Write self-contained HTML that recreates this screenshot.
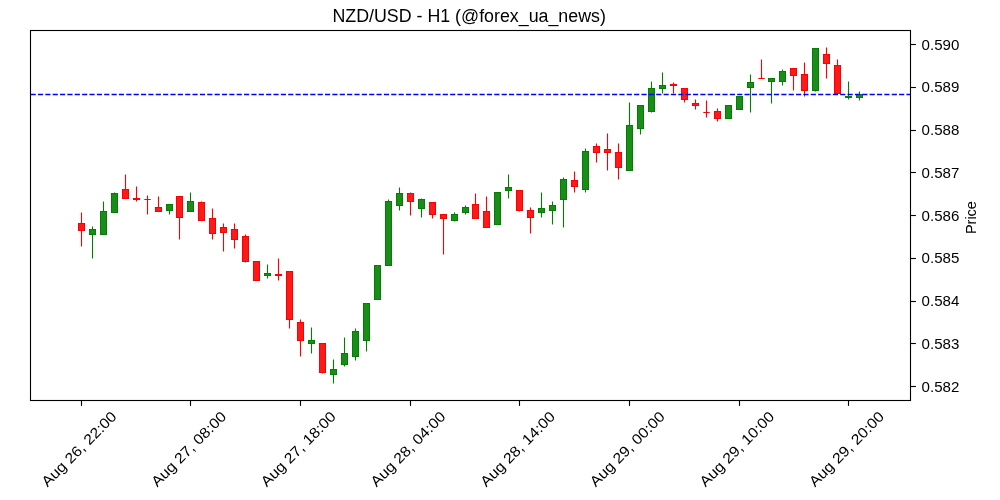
<!DOCTYPE html>
<html><head><meta charset="utf-8"><title>NZD/USD - H1</title>
<style>
html,body{margin:0;padding:0;background:#fff;width:1000px;height:500px;overflow:hidden}
svg{display:block;will-change:transform;font-family:"Liberation Sans",sans-serif}
</style></head><body>
<svg width="1000" height="500" viewBox="0 0 1000 500"><g stroke-width="1.1"><line x1="81.5" y1="212.5" x2="81.5" y2="223.5" stroke="#ff0000"/><line x1="81.5" y1="230.5" x2="81.5" y2="246.5" stroke="#ff0000"/><line x1="92.5" y1="226.5" x2="92.5" y2="229.5" stroke="#008000"/><line x1="92.5" y1="234.5" x2="92.5" y2="258.5" stroke="#008000"/><line x1="103.5" y1="201.5" x2="103.5" y2="211.5" stroke="#008000"/><line x1="114.5" y1="192.5" x2="114.5" y2="193.5" stroke="#008000"/><line x1="125.5" y1="174.5" x2="125.5" y2="189.5" stroke="#ff0000"/><line x1="136.5" y1="186.5" x2="136.5" y2="198.5" stroke="#ff0000"/><line x1="136.5" y1="199.5" x2="136.5" y2="201.5" stroke="#ff0000"/><line x1="147.5" y1="195.5" x2="147.5" y2="199.5" stroke="#ff0000"/><line x1="147.5" y1="199.5" x2="147.5" y2="214.5" stroke="#ff0000"/><line x1="158.5" y1="196.5" x2="158.5" y2="207.5" stroke="#ff0000"/><line x1="169.5" y1="210.5" x2="169.5" y2="214.5" stroke="#008000"/><line x1="179.5" y1="217.5" x2="179.5" y2="239.5" stroke="#ff0000"/><line x1="190.5" y1="192.5" x2="190.5" y2="201.5" stroke="#008000"/><line x1="201.5" y1="201.5" x2="201.5" y2="202.5" stroke="#ff0000"/><line x1="212.5" y1="208.5" x2="212.5" y2="218.5" stroke="#ff0000"/><line x1="212.5" y1="233.5" x2="212.5" y2="239.5" stroke="#ff0000"/><line x1="223.5" y1="223.5" x2="223.5" y2="227.5" stroke="#ff0000"/><line x1="223.5" y1="232.5" x2="223.5" y2="251.5" stroke="#ff0000"/><line x1="234.5" y1="223.5" x2="234.5" y2="229.5" stroke="#ff0000"/><line x1="234.5" y1="239.5" x2="234.5" y2="248.5" stroke="#ff0000"/><line x1="245.5" y1="234.5" x2="245.5" y2="236.5" stroke="#ff0000"/><line x1="245.5" y1="261.5" x2="245.5" y2="262.5" stroke="#ff0000"/><line x1="267.5" y1="264.5" x2="267.5" y2="273.5" stroke="#008000"/><line x1="267.5" y1="275.5" x2="267.5" y2="278.5" stroke="#008000"/><line x1="278.5" y1="258.5" x2="278.5" y2="274.5" stroke="#ff0000"/><line x1="278.5" y1="275.5" x2="278.5" y2="280.5" stroke="#ff0000"/><line x1="289.5" y1="319.5" x2="289.5" y2="328.5" stroke="#ff0000"/><line x1="300.5" y1="319.5" x2="300.5" y2="322.5" stroke="#ff0000"/><line x1="300.5" y1="340.5" x2="300.5" y2="356.5" stroke="#ff0000"/><line x1="311.5" y1="327.5" x2="311.5" y2="340.5" stroke="#008000"/><line x1="311.5" y1="343.5" x2="311.5" y2="353.5" stroke="#008000"/><line x1="322.5" y1="372.5" x2="322.5" y2="373.5" stroke="#ff0000"/><line x1="333.5" y1="359.5" x2="333.5" y2="369.5" stroke="#008000"/><line x1="333.5" y1="374.5" x2="333.5" y2="383.5" stroke="#008000"/><line x1="344.5" y1="337.5" x2="344.5" y2="353.5" stroke="#008000"/><line x1="344.5" y1="364.5" x2="344.5" y2="366.5" stroke="#008000"/><line x1="355.5" y1="328.5" x2="355.5" y2="331.5" stroke="#008000"/><line x1="355.5" y1="356.5" x2="355.5" y2="360.5" stroke="#008000"/><line x1="366.5" y1="340.5" x2="366.5" y2="351.5" stroke="#008000"/><line x1="388.5" y1="199.5" x2="388.5" y2="201.5" stroke="#008000"/><line x1="399.5" y1="187.5" x2="399.5" y2="193.5" stroke="#008000"/><line x1="399.5" y1="205.5" x2="399.5" y2="210.5" stroke="#008000"/><line x1="410.5" y1="192.5" x2="410.5" y2="193.5" stroke="#ff0000"/><line x1="410.5" y1="201.5" x2="410.5" y2="215.5" stroke="#ff0000"/><line x1="421.5" y1="198.5" x2="421.5" y2="199.5" stroke="#008000"/><line x1="421.5" y1="208.5" x2="421.5" y2="217.5" stroke="#008000"/><line x1="432.5" y1="214.5" x2="432.5" y2="218.5" stroke="#ff0000"/><line x1="443.5" y1="218.5" x2="443.5" y2="254.5" stroke="#ff0000"/><line x1="454.5" y1="212.5" x2="454.5" y2="214.5" stroke="#008000"/><line x1="454.5" y1="220.5" x2="454.5" y2="221.5" stroke="#008000"/><line x1="465.5" y1="205.5" x2="465.5" y2="207.5" stroke="#008000"/><line x1="465.5" y1="212.5" x2="465.5" y2="214.5" stroke="#008000"/><line x1="475.5" y1="193.5" x2="475.5" y2="204.5" stroke="#ff0000"/><line x1="486.5" y1="196.5" x2="486.5" y2="211.5" stroke="#ff0000"/><line x1="508.5" y1="174.5" x2="508.5" y2="187.5" stroke="#008000"/><line x1="508.5" y1="190.5" x2="508.5" y2="198.5" stroke="#008000"/><line x1="519.5" y1="210.5" x2="519.5" y2="211.5" stroke="#ff0000"/><line x1="530.5" y1="207.5" x2="530.5" y2="210.5" stroke="#ff0000"/><line x1="530.5" y1="217.5" x2="530.5" y2="233.5" stroke="#ff0000"/><line x1="541.5" y1="192.5" x2="541.5" y2="208.5" stroke="#008000"/><line x1="541.5" y1="212.5" x2="541.5" y2="217.5" stroke="#008000"/><line x1="552.5" y1="201.5" x2="552.5" y2="205.5" stroke="#008000"/><line x1="552.5" y1="210.5" x2="552.5" y2="224.5" stroke="#008000"/><line x1="563.5" y1="177.5" x2="563.5" y2="179.5" stroke="#008000"/><line x1="563.5" y1="199.5" x2="563.5" y2="227.5" stroke="#008000"/><line x1="574.5" y1="171.5" x2="574.5" y2="180.5" stroke="#ff0000"/><line x1="574.5" y1="186.5" x2="574.5" y2="192.5" stroke="#ff0000"/><line x1="585.5" y1="148.5" x2="585.5" y2="151.5" stroke="#008000"/><line x1="585.5" y1="189.5" x2="585.5" y2="192.5" stroke="#008000"/><line x1="596.5" y1="143.5" x2="596.5" y2="146.5" stroke="#ff0000"/><line x1="596.5" y1="152.5" x2="596.5" y2="162.5" stroke="#ff0000"/><line x1="607.5" y1="133.5" x2="607.5" y2="149.5" stroke="#ff0000"/><line x1="607.5" y1="152.5" x2="607.5" y2="170.5" stroke="#ff0000"/><line x1="618.5" y1="143.5" x2="618.5" y2="152.5" stroke="#ff0000"/><line x1="618.5" y1="167.5" x2="618.5" y2="179.5" stroke="#ff0000"/><line x1="629.5" y1="102.5" x2="629.5" y2="125.5" stroke="#008000"/><line x1="640.5" y1="128.5" x2="640.5" y2="134.5" stroke="#008000"/><line x1="651.5" y1="81.5" x2="651.5" y2="88.5" stroke="#008000"/><line x1="651.5" y1="111.5" x2="651.5" y2="112.5" stroke="#008000"/><line x1="662.5" y1="72.5" x2="662.5" y2="85.5" stroke="#008000"/><line x1="662.5" y1="88.5" x2="662.5" y2="93.5" stroke="#008000"/><line x1="673.5" y1="82.5" x2="673.5" y2="84.5" stroke="#ff0000"/><line x1="673.5" y1="85.5" x2="673.5" y2="93.5" stroke="#ff0000"/><line x1="684.5" y1="99.5" x2="684.5" y2="102.5" stroke="#ff0000"/><line x1="695.5" y1="99.5" x2="695.5" y2="103.5" stroke="#ff0000"/><line x1="695.5" y1="105.5" x2="695.5" y2="109.5" stroke="#ff0000"/><line x1="706.5" y1="100.5" x2="706.5" y2="112.5" stroke="#ff0000"/><line x1="706.5" y1="112.5" x2="706.5" y2="117.5" stroke="#ff0000"/><line x1="717.5" y1="108.5" x2="717.5" y2="111.5" stroke="#ff0000"/><line x1="717.5" y1="118.5" x2="717.5" y2="121.5" stroke="#ff0000"/><line x1="750.5" y1="74.5" x2="750.5" y2="82.5" stroke="#008000"/><line x1="750.5" y1="87.5" x2="750.5" y2="112.5" stroke="#008000"/><line x1="761.5" y1="59.5" x2="761.5" y2="78.5" stroke="#ff0000"/><line x1="771.5" y1="81.5" x2="771.5" y2="103.5" stroke="#008000"/><line x1="782.5" y1="69.5" x2="782.5" y2="71.5" stroke="#008000"/><line x1="782.5" y1="81.5" x2="782.5" y2="85.5" stroke="#008000"/><line x1="793.5" y1="75.5" x2="793.5" y2="90.5" stroke="#ff0000"/><line x1="804.5" y1="62.5" x2="804.5" y2="74.5" stroke="#ff0000"/><line x1="804.5" y1="90.5" x2="804.5" y2="96.5" stroke="#ff0000"/><line x1="815.5" y1="90.5" x2="815.5" y2="91.5" stroke="#008000"/><line x1="826.5" y1="47.5" x2="826.5" y2="54.5" stroke="#ff0000"/><line x1="826.5" y1="63.5" x2="826.5" y2="78.5" stroke="#ff0000"/><line x1="837.5" y1="59.5" x2="837.5" y2="65.5" stroke="#ff0000"/><line x1="837.5" y1="93.5" x2="837.5" y2="94.5" stroke="#ff0000"/><line x1="848.5" y1="81.5" x2="848.5" y2="96.5" stroke="#008000"/><line x1="848.5" y1="97.5" x2="848.5" y2="99.5" stroke="#008000"/><line x1="859.5" y1="91.5" x2="859.5" y2="94.5" stroke="#008000"/><line x1="859.5" y1="97.5" x2="859.5" y2="100.5" stroke="#008000"/></g>
<g stroke-width="1"><rect x="78.5" y="223.5" width="6" height="7" fill="rgba(255,0,0,0.9)" stroke="#ff0000"/><rect x="89.5" y="229.5" width="6" height="5" fill="rgba(0,128,0,0.9)" stroke="#008000"/><rect x="100.5" y="211.5" width="6" height="23" fill="rgba(0,128,0,0.9)" stroke="#008000"/><rect x="111.5" y="193.5" width="6" height="19" fill="rgba(0,128,0,0.9)" stroke="#008000"/><rect x="122.5" y="189.5" width="6" height="9" fill="rgba(255,0,0,0.9)" stroke="#ff0000"/><rect x="133.5" y="198.5" width="6" height="1" fill="rgba(255,0,0,0.9)" stroke="#ff0000"/><line x1="144.3" y1="199.5" x2="150.7" y2="199.5" stroke="#ff0000"/><rect x="155.5" y="207.5" width="6" height="4" fill="rgba(255,0,0,0.9)" stroke="#ff0000"/><rect x="166.5" y="204.5" width="6" height="6" fill="rgba(0,128,0,0.9)" stroke="#008000"/><rect x="176.5" y="196.5" width="6" height="21" fill="rgba(255,0,0,0.9)" stroke="#ff0000"/><rect x="187.5" y="201.5" width="6" height="10" fill="rgba(0,128,0,0.9)" stroke="#008000"/><rect x="198.5" y="202.5" width="6" height="18" fill="rgba(255,0,0,0.9)" stroke="#ff0000"/><rect x="209.5" y="218.5" width="6" height="15" fill="rgba(255,0,0,0.9)" stroke="#ff0000"/><rect x="220.5" y="227.5" width="6" height="5" fill="rgba(255,0,0,0.9)" stroke="#ff0000"/><rect x="231.5" y="229.5" width="6" height="10" fill="rgba(255,0,0,0.9)" stroke="#ff0000"/><rect x="242.5" y="236.5" width="6" height="25" fill="rgba(255,0,0,0.9)" stroke="#ff0000"/><rect x="253.5" y="261.5" width="6" height="19" fill="rgba(255,0,0,0.9)" stroke="#ff0000"/><rect x="264.5" y="273.5" width="6" height="2" fill="rgba(0,128,0,0.9)" stroke="#008000"/><rect x="275.5" y="274.5" width="6" height="1" fill="rgba(255,0,0,0.9)" stroke="#ff0000"/><rect x="286.5" y="271.5" width="6" height="48" fill="rgba(255,0,0,0.9)" stroke="#ff0000"/><rect x="297.5" y="322.5" width="6" height="18" fill="rgba(255,0,0,0.9)" stroke="#ff0000"/><rect x="308.5" y="340.5" width="6" height="3" fill="rgba(0,128,0,0.9)" stroke="#008000"/><rect x="319.5" y="343.5" width="6" height="29" fill="rgba(255,0,0,0.9)" stroke="#ff0000"/><rect x="330.5" y="369.5" width="6" height="5" fill="rgba(0,128,0,0.9)" stroke="#008000"/><rect x="341.5" y="353.5" width="6" height="11" fill="rgba(0,128,0,0.9)" stroke="#008000"/><rect x="352.5" y="331.5" width="6" height="25" fill="rgba(0,128,0,0.9)" stroke="#008000"/><rect x="363.5" y="303.5" width="6" height="37" fill="rgba(0,128,0,0.9)" stroke="#008000"/><rect x="374.5" y="265.5" width="6" height="34" fill="rgba(0,128,0,0.9)" stroke="#008000"/><rect x="385.5" y="201.5" width="6" height="64" fill="rgba(0,128,0,0.9)" stroke="#008000"/><rect x="396.5" y="193.5" width="6" height="12" fill="rgba(0,128,0,0.9)" stroke="#008000"/><rect x="407.5" y="193.5" width="6" height="8" fill="rgba(255,0,0,0.9)" stroke="#ff0000"/><rect x="418.5" y="199.5" width="6" height="9" fill="rgba(0,128,0,0.9)" stroke="#008000"/><rect x="429.5" y="202.5" width="6" height="12" fill="rgba(255,0,0,0.9)" stroke="#ff0000"/><rect x="440.5" y="214.5" width="6" height="4" fill="rgba(255,0,0,0.9)" stroke="#ff0000"/><rect x="451.5" y="214.5" width="6" height="6" fill="rgba(0,128,0,0.9)" stroke="#008000"/><rect x="462.5" y="207.5" width="6" height="5" fill="rgba(0,128,0,0.9)" stroke="#008000"/><rect x="472.5" y="204.5" width="6" height="14" fill="rgba(255,0,0,0.9)" stroke="#ff0000"/><rect x="483.5" y="211.5" width="6" height="16" fill="rgba(255,0,0,0.9)" stroke="#ff0000"/><rect x="494.5" y="192.5" width="6" height="32" fill="rgba(0,128,0,0.9)" stroke="#008000"/><rect x="505.5" y="187.5" width="6" height="3" fill="rgba(0,128,0,0.9)" stroke="#008000"/><rect x="516.5" y="190.5" width="6" height="20" fill="rgba(255,0,0,0.9)" stroke="#ff0000"/><rect x="527.5" y="210.5" width="6" height="7" fill="rgba(255,0,0,0.9)" stroke="#ff0000"/><rect x="538.5" y="208.5" width="6" height="4" fill="rgba(0,128,0,0.9)" stroke="#008000"/><rect x="549.5" y="205.5" width="6" height="5" fill="rgba(0,128,0,0.9)" stroke="#008000"/><rect x="560.5" y="179.5" width="6" height="20" fill="rgba(0,128,0,0.9)" stroke="#008000"/><rect x="571.5" y="180.5" width="6" height="6" fill="rgba(255,0,0,0.9)" stroke="#ff0000"/><rect x="582.5" y="151.5" width="6" height="38" fill="rgba(0,128,0,0.9)" stroke="#008000"/><rect x="593.5" y="146.5" width="6" height="6" fill="rgba(255,0,0,0.9)" stroke="#ff0000"/><rect x="604.5" y="149.5" width="6" height="3" fill="rgba(255,0,0,0.9)" stroke="#ff0000"/><rect x="615.5" y="152.5" width="6" height="15" fill="rgba(255,0,0,0.9)" stroke="#ff0000"/><rect x="626.5" y="125.5" width="6" height="45" fill="rgba(0,128,0,0.9)" stroke="#008000"/><rect x="637.5" y="105.5" width="6" height="23" fill="rgba(0,128,0,0.9)" stroke="#008000"/><rect x="648.5" y="88.5" width="6" height="23" fill="rgba(0,128,0,0.9)" stroke="#008000"/><rect x="659.5" y="85.5" width="6" height="3" fill="rgba(0,128,0,0.9)" stroke="#008000"/><rect x="670.5" y="84.5" width="6" height="1" fill="rgba(255,0,0,0.9)" stroke="#ff0000"/><rect x="681.5" y="88.5" width="6" height="11" fill="rgba(255,0,0,0.9)" stroke="#ff0000"/><rect x="692.5" y="103.5" width="6" height="2" fill="rgba(255,0,0,0.9)" stroke="#ff0000"/><line x1="703.3" y1="112.5" x2="709.7" y2="112.5" stroke="#ff0000"/><rect x="714.5" y="111.5" width="6" height="7" fill="rgba(255,0,0,0.9)" stroke="#ff0000"/><rect x="725.5" y="105.5" width="6" height="13" fill="rgba(0,128,0,0.9)" stroke="#008000"/><rect x="736.5" y="96.5" width="6" height="13" fill="rgba(0,128,0,0.9)" stroke="#008000"/><rect x="747.5" y="82.5" width="6" height="5" fill="rgba(0,128,0,0.9)" stroke="#008000"/><line x1="758.3" y1="78.5" x2="764.7" y2="78.5" stroke="#ff0000"/><rect x="768.5" y="78.5" width="6" height="3" fill="rgba(0,128,0,0.9)" stroke="#008000"/><rect x="779.5" y="71.5" width="6" height="10" fill="rgba(0,128,0,0.9)" stroke="#008000"/><rect x="790.5" y="68.5" width="6" height="7" fill="rgba(255,0,0,0.9)" stroke="#ff0000"/><rect x="801.5" y="74.5" width="6" height="16" fill="rgba(255,0,0,0.9)" stroke="#ff0000"/><rect x="812.5" y="48.5" width="6" height="42" fill="rgba(0,128,0,0.9)" stroke="#008000"/><rect x="823.5" y="54.5" width="6" height="9" fill="rgba(255,0,0,0.9)" stroke="#ff0000"/><rect x="834.5" y="65.5" width="6" height="28" fill="rgba(255,0,0,0.9)" stroke="#ff0000"/><rect x="845.5" y="96.5" width="6" height="1" fill="rgba(0,128,0,0.9)" stroke="#008000"/><rect x="856.5" y="94.5" width="6" height="3" fill="rgba(0,128,0,0.9)" stroke="#008000"/></g>
<line x1="30.6" y1="94.5" x2="910.5" y2="94.5" stroke="#0000ff" stroke-width="1.39" stroke-dasharray="5.14 2.22"/>
<rect x="30.5" y="30.5" width="880.0" height="370.0" fill="none" stroke="#000" stroke-width="1.11"/>
<g stroke="#000" stroke-width="1.11"><line x1="910.5" y1="44.5" x2="915.9" y2="44.5"/><line x1="910.5" y1="87.5" x2="915.9" y2="87.5"/><line x1="910.5" y1="130.5" x2="915.9" y2="130.5"/><line x1="910.5" y1="172.5" x2="915.9" y2="172.5"/><line x1="910.5" y1="215.5" x2="915.9" y2="215.5"/><line x1="910.5" y1="258.5" x2="915.9" y2="258.5"/><line x1="910.5" y1="301.5" x2="915.9" y2="301.5"/><line x1="910.5" y1="343.5" x2="915.9" y2="343.5"/><line x1="910.5" y1="386.5" x2="915.9" y2="386.5"/></g>
<g stroke="#000" stroke-width="1.11"><line x1="81.5" y1="400.5" x2="81.5" y2="405.9"/><line x1="190.5" y1="400.5" x2="190.5" y2="405.9"/><line x1="300.5" y1="400.5" x2="300.5" y2="405.9"/><line x1="410.5" y1="400.5" x2="410.5" y2="405.9"/><line x1="519.5" y1="400.5" x2="519.5" y2="405.9"/><line x1="629.5" y1="400.5" x2="629.5" y2="405.9"/><line x1="739.5" y1="400.5" x2="739.5" y2="405.9"/><line x1="848.5" y1="400.5" x2="848.5" y2="405.9"/></g>
<g font-size="13.89" fill="#000"><text x="921.6" y="49.5" textLength="37.8" lengthAdjust="spacingAndGlyphs">0.590</text><text x="921.6" y="92.25" textLength="37.8" lengthAdjust="spacingAndGlyphs">0.589</text><text x="921.6" y="135" textLength="37.8" lengthAdjust="spacingAndGlyphs">0.588</text><text x="921.6" y="177.75" textLength="37.8" lengthAdjust="spacingAndGlyphs">0.587</text><text x="921.6" y="220.5" textLength="37.8" lengthAdjust="spacingAndGlyphs">0.586</text><text x="921.6" y="263.25" textLength="37.8" lengthAdjust="spacingAndGlyphs">0.585</text><text x="921.6" y="306" textLength="37.8" lengthAdjust="spacingAndGlyphs">0.584</text><text x="921.6" y="348.75" textLength="37.8" lengthAdjust="spacingAndGlyphs">0.583</text><text x="921.6" y="391.5" textLength="37.8" lengthAdjust="spacingAndGlyphs">0.582</text><text transform="translate(82.62,452.6) rotate(-45)" text-anchor="middle" font-size="14.6" textLength="99" lengthAdjust="spacingAndGlyphs">Aug 26, 22:00</text><text transform="translate(192.25,452.6) rotate(-45)" text-anchor="middle" font-size="14.6" textLength="99" lengthAdjust="spacingAndGlyphs">Aug 27, 08:00</text><text transform="translate(301.87,452.6) rotate(-45)" text-anchor="middle" font-size="14.6" textLength="99" lengthAdjust="spacingAndGlyphs">Aug 27, 18:00</text><text transform="translate(411.5,452.6) rotate(-45)" text-anchor="middle" font-size="14.6" textLength="99" lengthAdjust="spacingAndGlyphs">Aug 28, 04:00</text><text transform="translate(521.13,452.6) rotate(-45)" text-anchor="middle" font-size="14.6" textLength="99" lengthAdjust="spacingAndGlyphs">Aug 28, 14:00</text><text transform="translate(630.75,452.6) rotate(-45)" text-anchor="middle" font-size="14.6" textLength="99" lengthAdjust="spacingAndGlyphs">Aug 29, 00:00</text><text transform="translate(740.38,452.6) rotate(-45)" text-anchor="middle" font-size="14.6" textLength="99" lengthAdjust="spacingAndGlyphs">Aug 29, 10:00</text><text transform="translate(850.01,452.6) rotate(-45)" text-anchor="middle" font-size="14.6" textLength="99" lengthAdjust="spacingAndGlyphs">Aug 29, 20:00</text></g>
<text x="469.15" y="21.75" text-anchor="middle" font-size="17.6" textLength="273.5" lengthAdjust="spacingAndGlyphs">NZD/USD - H1 (@forex_ua_news)</text>
<text transform="translate(976.0,217.6) rotate(-90)" text-anchor="middle" font-size="13.89" textLength="33" lengthAdjust="spacingAndGlyphs">Price</text></svg>
</body></html>
